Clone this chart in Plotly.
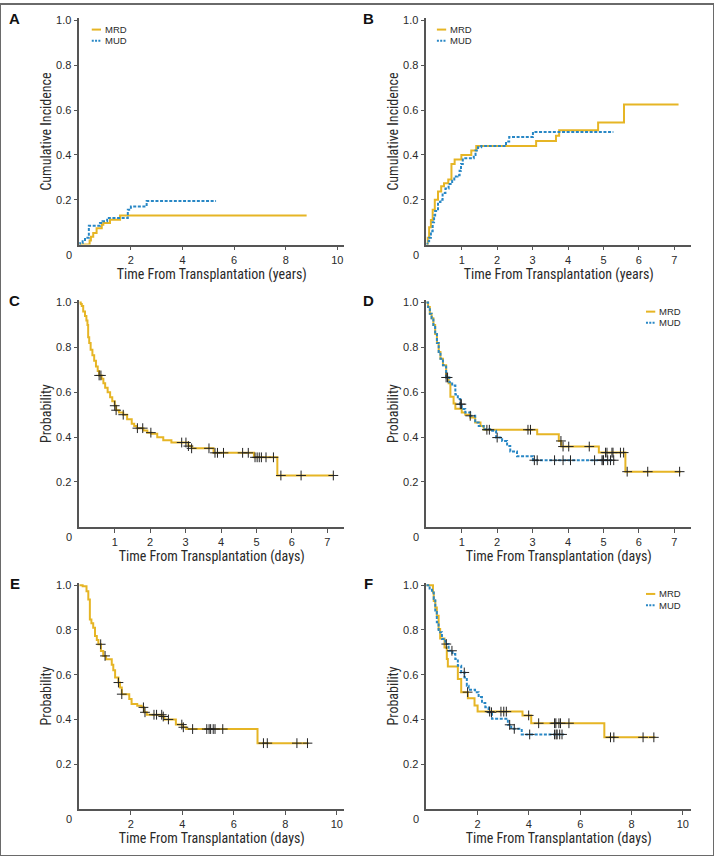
import plotly.graph_objects as go

# ---------------- data ----------------
# Panel A: cumulative incidence (years)
a_mrd_t = [0, 0.40, 0.45, 0.54, 0.67, 0.87, 0.93, 1.19, 1.58, 8.81]
a_mrd_y = [0, 0.018, 0.035, 0.052, 0.073, 0.089, 0.096, 0.111, 0.130, 0.130]
a_mud_t = [0, 0.03, 0.13, 0.22, 0.37, 0.80, 0.90, 1.08, 1.88, 2.00, 2.61, 5.30]
a_mud_y = [0, 0.007, 0.015, 0.030, 0.084, 0.096, 0.104, 0.119, 0.156, 0.170, 0.194, 0.194]

# Panel B: cumulative incidence (years)
b_mrd_t = [0, 0.04, 0.08, 0.13, 0.18, 0.24, 0.33, 0.42, 0.50, 0.62, 0.71, 0.80, 0.99, 1.27, 1.41, 3.10, 3.66, 3.75, 4.85, 5.58, 7.12]
b_mrd_y = [0, 0.03, 0.077, 0.11, 0.156, 0.20, 0.237, 0.26, 0.274, 0.29, 0.36, 0.38, 0.40, 0.42, 0.44, 0.463, 0.486, 0.511, 0.545, 0.625, 0.625]
b_mud_t = [0, 0.03, 0.08, 0.13, 0.18, 0.22, 0.25, 0.33, 0.40, 0.46, 0.54, 0.63, 0.73, 0.79, 0.88, 0.94, 0.98, 1.03, 1.34, 1.39, 1.46, 1.55, 2.25, 2.34, 3.01, 5.28]
b_mud_y = [0, 0.015, 0.03, 0.06, 0.10, 0.13, 0.15, 0.19, 0.20, 0.23, 0.25, 0.27, 0.285, 0.304, 0.31, 0.33, 0.36, 0.385, 0.40, 0.42, 0.434, 0.44, 0.46, 0.48, 0.503, 0.503]

# Panel C: survival probability (single curve)
c_t = [0, 0.04, 0.07, 0.11, 0.16, 0.20, 0.23, 0.25, 0.28, 0.32, 0.37, 0.42, 0.47, 0.52, 0.56, 0.63, 0.68, 0.73, 0.80, 0.87, 0.93, 1.00, 1.04, 1.12, 1.24, 1.35, 1.48, 1.55, 1.62, 1.81, 1.92, 2.04, 2.20, 2.37, 2.60, 3.08, 3.17, 3.79, 4.93, 5.59, 7.18]
c_y = [1.0, 0.993, 0.985, 0.96, 0.94, 0.92, 0.90, 0.845, 0.82, 0.79, 0.765, 0.74, 0.715, 0.695, 0.675, 0.66, 0.64, 0.62, 0.60, 0.578, 0.56, 0.54, 0.52, 0.51, 0.50, 0.48, 0.46, 0.45, 0.44, 0.43, 0.42, 0.415, 0.40, 0.386, 0.376, 0.36, 0.35, 0.33, 0.31, 0.229, 0.229]
c_cens = [0.56, 0.61, 1.0, 1.04, 1.24, 1.64, 1.79, 2.02, 2.89, 3.01, 3.08, 3.17, 3.66, 3.83, 3.90, 4.07, 4.61, 4.77, 4.96, 5.02, 5.08, 5.14, 5.27, 5.48, 5.69, 6.26, 7.17]

# Panel D: survival probability MRD vs MUD
d_mrd_t = [0, 0.05, 0.10, 0.15, 0.20, 0.25, 0.30, 0.35, 0.40, 0.47, 0.56, 0.63, 0.68, 0.77, 0.82, 1.00, 1.10, 1.24, 1.38, 1.53, 1.62, 3.13, 3.74, 3.81, 4.87, 5.62, 7.18]
d_mrd_y = [1.0, 0.98, 0.95, 0.93, 0.90, 0.86, 0.82, 0.78, 0.75, 0.72, 0.666, 0.64, 0.58, 0.55, 0.527, 0.51, 0.50, 0.487, 0.465, 0.45, 0.433, 0.413, 0.383, 0.358, 0.331, 0.246, 0.246]
d_mud_t = [0, 0.05, 0.10, 0.15, 0.20, 0.25, 0.30, 0.35, 0.40, 0.47, 0.56, 0.65, 0.73, 0.82, 0.89, 0.96, 1.00, 1.10, 1.24, 1.38, 1.48, 1.62, 1.86, 1.97, 2.14, 2.28, 2.37, 2.56, 3.01, 5.29]
d_mud_y = [1.0, 0.98, 0.95, 0.93, 0.90, 0.86, 0.82, 0.78, 0.75, 0.72, 0.666, 0.645, 0.63, 0.59, 0.57, 0.547, 0.525, 0.51, 0.495, 0.465, 0.45, 0.435, 0.428, 0.398, 0.383, 0.361, 0.336, 0.315, 0.297, 0.297]
d_mrd_cens = [0.56, 0.60, 1.71, 1.78, 2.87, 2.94, 3.80, 3.86, 4.02, 4.60, 5.06, 5.10, 5.24, 5.27, 5.48, 5.57, 5.67, 6.25, 7.15]
d_mud_cens = [0.96, 0.99, 1.24, 2.00, 3.05, 3.13, 3.62, 3.86, 4.07, 4.75, 4.96, 4.99, 5.00, 5.12, 5.20, 5.29]

# Panel E: survival probability (single curve)
e_t = [0, 0.13, 0.28, 0.35, 0.41, 0.47, 0.54, 0.61, 0.68, 0.74, 0.84, 0.93, 1.04, 1.26, 1.32, 1.39, 1.52, 1.58, 1.65, 1.94, 2.03, 2.25, 2.42, 2.51, 2.62, 3.22, 3.30, 3.75, 4.03, 4.15, 6.92, 8.90]
e_y = [1.0, 0.995, 0.973, 0.936, 0.847, 0.83, 0.81, 0.773, 0.755, 0.736, 0.706, 0.684, 0.669, 0.645, 0.62, 0.588, 0.565, 0.543, 0.513, 0.491, 0.469, 0.461, 0.454, 0.432, 0.421, 0.413, 0.40, 0.377, 0.365, 0.357, 0.294, 0.294]
e_cens = [0.83, 1.0, 1.52, 1.65, 2.49, 2.55, 2.90, 3.00, 3.20, 3.26, 3.46, 3.98, 4.04, 4.40, 4.95, 5.04, 5.10, 5.20, 5.27, 5.57, 7.15, 7.30, 8.45, 8.86]

# Panel F: survival probability MRD vs MUD
f_mrd_t = [0, 0.26, 0.29, 0.35, 0.41, 0.48, 0.54, 0.71, 0.80, 0.84, 1.23, 1.36, 1.62, 1.88, 2.00, 3.75, 4.09, 6.94, 8.93]
f_mrd_y = [1.0, 0.967, 0.93, 0.90, 0.863, 0.804, 0.762, 0.722, 0.67, 0.637, 0.581, 0.522, 0.495, 0.462, 0.435, 0.418, 0.383, 0.32, 0.32]
f_mud_t = [0, 0.13, 0.22, 0.29, 0.35, 0.41, 0.48, 0.61, 0.74, 0.87, 1.02, 1.13, 1.23, 1.36, 1.49, 1.58, 1.65, 1.90, 2.04, 2.17, 2.30, 2.43, 2.56, 3.18, 3.31, 3.72, 5.36]
f_mud_y = [1.0, 0.985, 0.967, 0.938, 0.88, 0.834, 0.79, 0.76, 0.737, 0.707, 0.692, 0.67, 0.64, 0.61, 0.588, 0.551, 0.533, 0.522, 0.50, 0.474, 0.455, 0.432, 0.403, 0.376, 0.358, 0.333, 0.333]
f_mrd_cens = [1.61, 2.47, 2.91, 3.02, 3.12, 3.99, 4.38, 5.00, 5.05, 5.17, 5.23, 5.56, 7.18, 7.31, 8.45, 8.87]
f_mud_cens = [0.78, 1.00, 1.48, 2.54, 3.25, 3.43, 4.03, 5.00, 5.06, 5.10, 5.20, 5.29]

panel_letters = ["A", "B", "C", "D", "E", "F"]
series_names = ["MRD", "MUD"]
y_titles = ["Cumulative Incidence", "Cumulative Incidence", "Probability", "Probability", "Probability", "Probability"]
x_titles = ["Time From Transplantation (years)", "Time From Transplantation (years)",
            "Time From Transplantation (days)", "Time From Transplantation (days)",
            "Time From Transplantation (days)", "Time From Transplantation (days)"]
x_ticks = [[2, 4, 6, 8, 10], [1, 2, 3, 4, 5, 6, 7], [1, 2, 3, 4, 5, 6, 7],
           [1, 2, 3, 4, 5, 6, 7], [2, 4, 6, 8, 10], [2, 4, 6, 8, 10]]
y_ticks = [0.2, 0.4, 0.6, 0.8, 1.0]

# ---------------- style ----------------
GOLD = "#E6B525"
BLUE = "#2887C5"
AXC = "#555555"
TXT = "#2a2a2a"
TICKFONT = dict(family="Liberation Sans, Arial, sans-serif", size=11, color=TXT)
TITLEFONT = dict(family="Liberation Sans Narrow, Arial Narrow, Roboto Condensed, sans-serif", size=14, color=TXT)

W, H = 714, 856
cols = [(79.3, 344.3), (426.3, 691.3)]
rows = [(14.45, 241.7), (297.7, 525.3), (581.7, 808.7)]
x_ranges = [10.27, 7.48, 7.48, 7.48, 10.29, 10.33]


def step_at(ts, ys, tc):
    v = ys[0]
    for t, y in zip(ts, ys):
        if t <= tc:
            v = y
        else:
            break
    return v


fig = go.Figure()


def add_line(i, ts, ys, color, dash):
    ax = "" if i == 1 else str(i)
    fig.add_trace(go.Scatter(x=ts, y=ys, mode="lines", line_shape="hv",
                             line=dict(color=color, width=2, dash=dash),
                             xaxis="x" + ax, yaxis="y" + ax, showlegend=False,
                             hoverinfo="skip"))


def add_cens(i, ts, ys, cens):
    ax = "" if i == 1 else str(i)
    cy = [step_at(ts, ys, c) for c in cens]
    fig.add_trace(go.Scatter(x=cens, y=cy, mode="markers",
                             marker=dict(symbol="cross-thin", size=7,
                                         line=dict(width=1, color="#222222")),
                             xaxis="x" + ax, yaxis="y" + ax, showlegend=False,
                             hoverinfo="skip"))


DOT = "3px,1.6px"
add_line(1, a_mrd_t, a_mrd_y, GOLD, "solid")
add_line(1, a_mud_t, a_mud_y, BLUE, DOT)
add_line(2, b_mrd_t, b_mrd_y, GOLD, "solid")
add_line(2, b_mud_t, b_mud_y, BLUE, DOT)
add_line(3, c_t, c_y, GOLD, "solid")
add_cens(3, c_t, c_y, c_cens)
add_line(4, d_mrd_t, d_mrd_y, GOLD, "solid")
add_line(4, d_mud_t, d_mud_y, BLUE, DOT)
add_cens(4, d_mrd_t, d_mrd_y, d_mrd_cens)
add_cens(4, d_mud_t, d_mud_y, d_mud_cens)
add_line(5, e_t, e_y, GOLD, "solid")
add_cens(5, e_t, e_y, e_cens)
add_line(6, f_mrd_t, f_mrd_y, GOLD, "solid")
add_line(6, f_mud_t, f_mud_y, BLUE, DOT)
add_cens(6, f_mrd_t, f_mrd_y, f_mrd_cens)
add_cens(6, f_mud_t, f_mud_y, f_mud_cens)

layout = dict(width=W, height=H, margin=dict(l=0, r=0, t=0, b=0),
              paper_bgcolor="white", plot_bgcolor="white", showlegend=False)
annotations = []
shapes = []

# legend positions (fraction of axis domain) for panels with two series
legend_pos = {1: (0.047, 0.9505, 0.9008), 2: (0.040, 0.9505, 0.9008),
              4: (0.829, 0.950, 0.9007), 6: (0.829, 0.9515, 0.9018)}

for i in range(1, 7):
    r = (i - 1) // 2
    c = (i - 1) % 2
    x0p, x1p = cols[c]
    ytop, ybot = rows[r]
    ax = "" if i == 1 else str(i)
    layout["xaxis" + ax] = dict(
        domain=[x0p / W, x1p / W], anchor="y" + ax, range=[0, x_ranges[i - 1]],
        tickvals=x_ticks[i - 1], ticks="outside", ticklen=4, tickwidth=1, tickcolor=AXC,
        showline=True, linecolor=AXC, linewidth=1.5, showgrid=False, zeroline=False,
        tickfont=TICKFONT, fixedrange=True,
        title=dict(text=x_titles[i - 1], font=TITLEFONT, standoff=4))
    layout["yaxis" + ax] = dict(
        domain=[1 - ybot / H, 1 - ytop / H], anchor="x" + ax, range=[0, 1.01],
        tickvals=y_ticks, tickformat=".1f", ticks="outside", ticklen=4, tickwidth=1,
        tickcolor=AXC, showline=True, linecolor=AXC, linewidth=1.5, showgrid=False,
        zeroline=False, tickfont=TICKFONT, fixedrange=True,
        title=dict(text=y_titles[i - 1], font=TITLEFONT, standoff=1))
    # origin "0" label
    annotations.append(dict(text="0", x=0, y=0, xref="x" + ax, yref="y" + ax,
                            xanchor="center", yanchor="middle", xshift=-10, yshift=-10,
                            showarrow=False, font=TICKFONT))
    # panel letter
    annotations.append(dict(text="<b>%s</b>" % panel_letters[i - 1],
                            x=(14.5 if c == 0 else 368.8) / W,
                            y=1 - (ytop + 0.5) / H, xref="paper", yref="paper",
                            xanchor="center", yanchor="middle", showarrow=False,
                            font=dict(family="Liberation Sans, Arial, sans-serif", size=15, color="#111111")))
    if i in legend_pos:
        lx, ly1, ly2 = legend_pos[i]
        for name, color, dash, ly in ((series_names[0], GOLD, "solid", ly1),
                                      (series_names[1], BLUE, "dot", ly2)):
            shapes.append(dict(type="line", xref="x%s domain" % ax, yref="y%s domain" % ax,
                               x0=lx, x1=lx + 0.035, y0=ly, y1=ly,
                               line=dict(color=color, width=2,
                                         dash="solid" if dash == "solid" else "2px,1.3px")))
            annotations.append(dict(text=name, x=lx + 0.042, y=ly,
                                    xref="x%s domain" % ax, yref="y%s domain" % ax,
                                    xanchor="left", yanchor="middle", showarrow=False,
                                    font=dict(family="Liberation Sans, Arial, sans-serif",
                                              size=9.5, color=TXT)))

# outer frame
shapes.append(dict(type="rect", xref="paper", yref="paper", x0=0, x1=1, y0=0, y1=1,
                   line=dict(color="#6a6a6a", width=2), fillcolor="rgba(0,0,0,0)"))

layout["annotations"] = annotations
layout["shapes"] = shapes
fig.update_layout(**layout)
fig.write_html("out.html", config={"displayModeBar": False},
               post_script="document.body.style.margin='0px';document.body.style.padding='0px';"
                           "document.documentElement.style.overflow='hidden';")
